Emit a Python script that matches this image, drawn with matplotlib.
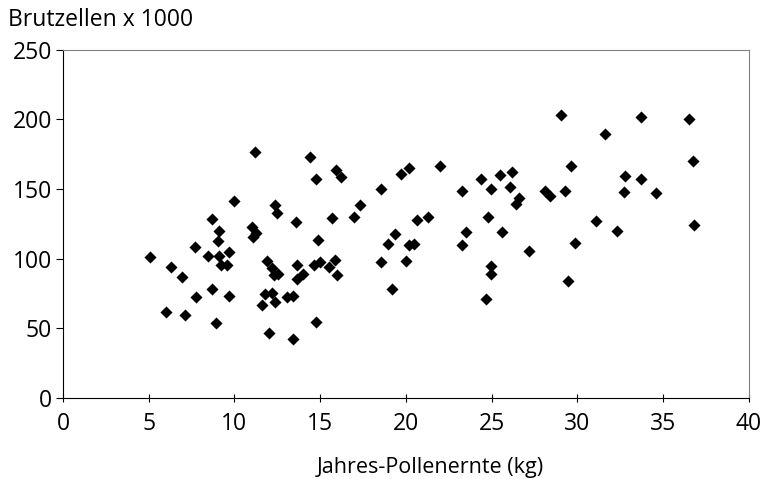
import matplotlib
matplotlib.use("Agg")
import matplotlib.pyplot as plt

plt.rcParams['font.family'] = ['Open Sans', 'DejaVu Sans']

# Jahres-Pollenernte (kg)
pollen = [11.2, 14.4, 15.9, 16.2, 14.75, 10.0, 12.36, 12.48, 13.6, 15.7,
          8.7, 9.1, 9.06, 11.0, 11.25, 11.06, 14.85, 7.7, 5.1, 8.47,
          9.1, 9.7, 9.24, 9.57, 6.3, 6.96, 11.9, 12.2, 12.55, 12.3,
          13.66, 14.0, 13.66, 14.65, 15.0, 15.5, 15.84, 16.0, 7.75, 8.7,
          9.68, 6.0, 7.1, 8.9, 11.78, 12.17, 11.6, 12.36, 13.04, 13.43,
          14.75, 12.0, 13.43,
          19.7, 20.2, 22.0, 18.56, 17.3, 17.0, 20.66, 21.3, 19.34, 18.97,
          20.2, 20.5, 18.56, 20.0, 19.2, 23.28, 24.4, 25.5, 26.2, 24.97,
          26.1, 26.6, 26.4, 24.76, 23.5, 23.28, 25.6, 27.2, 24.97, 24.97,
          24.65,
          29.04, 33.7, 36.5, 31.6, 29.64, 36.75, 32.77, 33.7, 28.1, 28.4,
          29.27, 32.7, 34.6, 31.1, 32.3, 36.83, 29.87, 29.46]

# Brutzellen x 1000
brut = [176.5, 173, 163.5, 159, 157.3, 141.7, 138.8, 132.9, 126.6, 129.3,
        128.5, 119.9, 112.4, 122.5, 118.5, 115.6, 113.7, 108.4, 101, 101.7,
        102, 104.5, 95.7, 95.7, 94.2, 86.8, 98.6, 93.3, 89.2, 88.5,
        95.2, 89.2, 85.4, 95.7, 97.6, 94, 99.3, 88.5, 72.7, 78.2,
        73.4, 61.9, 59.9, 53.7, 74.6, 75.3, 66.9, 68.6, 72.9, 73.4,
        54.5, 47, 42.2,
        161, 165.2, 166.9, 150.1, 138.6, 130, 127.5, 130, 118, 110.3,
        109.8, 110.6, 98, 98.3, 78.2, 148.9, 157.6, 160.4, 162.4, 150.4,
        151.3, 143.7, 139.4, 130, 119.4, 109.6, 119.4, 105.8, 94.5, 89.2,
        71.2,
        202.9, 201.7, 200, 189.9, 166.9, 170.5, 159.7, 157.3, 148.4, 144.8,
        148.9, 148, 147.3, 127.3, 119.6, 124.5, 111, 83.7]

fig = plt.figure(figsize=(7.68, 4.79), dpi=100)
ax = fig.add_axes([0.082, 0.169, 0.893, 0.727])

ax.scatter(pollen, brut, marker='D', s=38, color='black', linewidths=0)

ax.set_xlim(0, 40)
ax.set_ylim(0, 250)
ax.set_xticks(range(0, 41, 5))
ax.set_yticks(range(0, 251, 50))

ax.spines['top'].set_color('#808080')
ax.spines['right'].set_color('#808080')
ax.spines['left'].set_color('black')
ax.spines['bottom'].set_color('black')
ax.tick_params(axis='x', direction='inout', length=6, pad=7, labelsize=16.5)
ax.tick_params(axis='y', direction='out', length=5, pad=3, labelsize=16.5)

ax.set_xlabel('Jahres-Pollenernte (kg)', fontsize=15.5)
ax.xaxis.set_label_coords(0.536, -0.17)
fig.text(0.011, 0.958, 'Brutzellen x 1000', fontsize=16.5, va='center', ha='left')

fig.savefig('out.png', dpi=100)
